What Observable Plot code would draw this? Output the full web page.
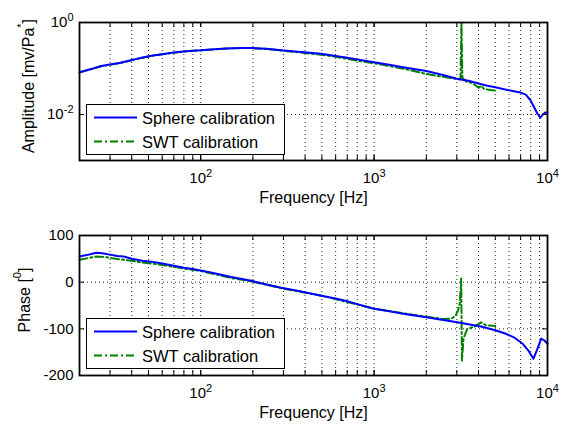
<!DOCTYPE html>
<html><head><meta charset="utf-8">
<script src="https://cdn.jsdelivr.net/npm/d3@7"></script>
<script src="https://cdn.jsdelivr.net/npm/@observablehq/plot@0.6"></script>
<style>
body{margin:0;background:#fff;}
#wrap{position:relative;width:564px;height:432px;font-family:"Liberation Sans",Arial,sans-serif;background:#fff;}
#wrap svg{display:block;}
.legend{position:absolute;background:#fff;border:1.6px solid #000;box-sizing:border-box;}
</style></head><body><div id="wrap"></div>
<script>
// ---- data ----
const seriesNames = ["Sphere calibration", "SWT calibration"];
const seriesColors = ["#0000ff", "#008000"];
const seriesDash = [null, "8,3,2,3"];

const sphereAmpFreq = [20,22,24,26.7,30,34,38,42,47,52,60,70,80,90,100,120,140,170,200,240,291,379,495,600,700,800,1000,1200,1500,2000,2500,3000,3500,4100,4500,5000,5700,6400,7000,7500,8000,8400,8800,9100,9400,9700,10000];
const sphereAmp     = [0.083,0.092,0.10,0.113,0.122,0.132,0.145,0.16,0.175,0.19,0.205,0.222,0.235,0.243,0.248,0.262,0.272,0.28,0.278,0.268,0.250,0.228,0.21,0.188,0.172,0.158,0.137,0.122,0.105,0.088,0.072,0.060,0.054,0.046,0.042,0.039,0.035,0.032,0.030,0.027,0.020,0.014,0.010,0.0085,0.010,0.011,0.011];

const swtAmpFreq = [20,22,24,26.7,30,34,38,42,47,52,60,70,80,90,100,120,140,170,200,240,291,379,495,600,700,800,1000,1200,1500,2000,2500,3000,3150,3190,3230,3400,3700,4000,4150,4300,4700,5000];
const swtAmp     = [0.082,0.091,0.10,0.112,0.121,0.131,0.144,0.158,0.174,0.189,0.204,0.221,0.234,0.242,0.247,0.261,0.271,0.279,0.277,0.266,0.246,0.222,0.200,0.180,0.162,0.148,0.130,0.115,0.098,0.076,0.066,0.059,0.058,1.0,0.062,0.052,0.048,0.038,0.042,0.036,0.034,0.033];

const spherePhaseFreq = [20,22,25,27,30,33,36,40,46,52,60,70,80,90,100,120,150,196,240,291,380,495,600,700,800,1000,1200,1500,2000,2500,3020,3500,4140,5000,5700,6450,7200,7800,8300,8700,9200,9600,10000];
const spherePhase     = [55,58,63,62,59,56,55,50,46,44,40,35,31,28,25,19,11,3,-5,-12,-20,-29,-35,-41,-47,-57,-62,-68,-75,-81,-86,-90,-95,-103,-110,-119,-132,-148,-164,-145,-121,-125,-132];

const swtPhaseFreq = [20,22,25,28,31,36,40,46,52,60,70,80,100,150,200,300,500,1000,1500,2000,2500,2800,2950,3050,3120,3180,3210,3280,3450,3800,4140,4400,5000];
const swtPhase     = [48,51,55,54,51,48,46,42,40,37,33,29,24,9,1,-14,-29,-57,-67,-74,-79,-78,-72,-60,-45,8,-168,-120,-100,-95,-86,-92,-94];

// axis ticks
const gridFreqs = [20,30,40,50,60,70,80,90,100,200,300,400,500,600,700,800,900,1000,2000,3000,4000,5000,6000,7000,8000,9000];
const majorFreqs = [100, 1000, 10000];
const ampTicks = [0.01, 1];
const ampGrid = [0.01];
const phaseTicks = [-200, -100, 0, 100];
const phaseGrid = [0, -100];
const xLabel = "Frequency [Hz]";

const zip = (fs, vs) => fs.map((f, i) => ({f, v: vs[i]}));

function panel({height, marginTop, marginBottom, yScale, series, yTicks, yGrid, yFormat}) {
  const W = 564, ML = 79, MR = 17;
  const pw = W - ML - MR, ph = height - marginTop - marginBottom, tk = 5;
  const dot = {stroke: "#000", strokeWidth: 1, strokeDasharray: "1,3", strokeOpacity: 0.85};
  const svg = Plot.plot({
    width: W, height, marginLeft: ML, marginRight: MR, marginTop, marginBottom,
    x: {type: "log", domain: [20, 10000]},
    y: yScale,
    style: {fontFamily: '"Liberation Sans", Arial, sans-serif', fontSize: "15px", background: "#fff", color: "#000", overflow: "visible"},
    marks: [
      Plot.ruleX(gridFreqs, dot),
      Plot.ruleY(yGrid, dot),
      ...series.map((s, i) => Plot.line(s, {x: "f", y: "v", stroke: seriesColors[i], strokeWidth: 2, strokeDasharray: seriesDash[i]})).reverse(),
      Plot.ruleX(gridFreqs.concat(majorFreqs.slice(0, -1)), {insetBottom: ph - tk, stroke: "#000", strokeWidth: 1}),
      Plot.ruleX(gridFreqs.concat(majorFreqs.slice(0, -1)), {insetTop: ph - tk, stroke: "#000", strokeWidth: 1}),
      Plot.ruleY(yGrid, {insetRight: pw - tk, stroke: "#000", strokeWidth: 1}),
      Plot.ruleY(yGrid, {insetLeft: pw - tk, stroke: "#000", strokeWidth: 1}),
      Plot.frame({stroke: "#000", strokeWidth: 1.8}),
      Plot.axisX(majorFreqs, {tickSize: 0, tickPadding: 12, tickFormat: d => "10^" + Math.round(Math.log10(d)), label: null}),
      Plot.axisY(yTicks, {tickSize: 0, tickPadding: 6, tickFormat: yFormat, label: null}),
      Plot.text([xLabel], {text: d => d, frameAnchor: "bottom", dy: 42, fontSize: 16})
    ]
  });
  // superscript exponents
  d3.select(svg).selectAll("text").each(function () {
    const m = this.textContent.match(/^10\^(-?\d+)$/);
    if (m) {
      this.textContent = "10";
      d3.select(this).append("tspan").attr("dy", "-0.6em").attr("font-size", "11px").text(m[1]);
    }
  });
  return svg;
}

function yLabel(svg, x, y, parts) {
  const t = d3.select(svg).append("text")
    .attr("transform", `translate(${x},${y}) rotate(-90)`)
    .attr("text-anchor", "middle").attr("dominant-baseline", "central")
    .attr("font-size", 16).attr("font-family", '"Liberation Sans", Arial, sans-serif').attr("fill", "#000");
  let prevSup = false;
  parts.forEach(([txt, sup]) => {
    const ts = t.append("tspan").text(txt);
    if (sup) ts.attr("dy", -7).attr("font-size", 11);
    else if (prevSup) ts.attr("dy", 7);
    prevSup = !!sup;
  });
}

function legend(left, topPx) {
  const div = document.createElement("div");
  div.className = "legend";
  Object.assign(div.style, {left: left + "px", top: topPx + "px", width: "199px", height: "51px"});
  const s = d3.select(div).append("svg").attr("width", 196).attr("height", 48);
  seriesNames.forEach((name, i) => {
    const cy = 12.5 + i * 24;
    s.append("line").attr("x1", 7).attr("x2", 50).attr("y1", cy).attr("y2", cy)
      .attr("stroke", seriesColors[i]).attr("stroke-width", 2)
      .attr("stroke-dasharray", seriesDash[i]);
    s.append("text").attr("x", 55).attr("y", cy).attr("dominant-baseline", "central")
      .attr("font-size", 16.5).attr("font-family", '"Liberation Sans", Arial, sans-serif').text(name);
  });
  return div;
}

const wrap = document.getElementById("wrap");

const ampSvg = panel({
  height: 216, marginTop: 22, marginBottom: 56,
  yScale: {type: "log", domain: [0.001, 1]},
  series: [zip(sphereAmpFreq, sphereAmp), zip(swtAmpFreq, swtAmp)],
  yTicks: ampTicks, yGrid: ampGrid,
  yFormat: d => "10^" + Math.round(Math.log10(d))
});
yLabel(ampSvg, 28, 86, [["Amplitude [mv/Pa"], ["*", true], ["]"]]);
wrap.appendChild(ampSvg);

const phaseSvg = panel({
  height: 216, marginTop: 19, marginBottom: 57,
  yScale: {type: "linear", domain: [-200, 100]},
  series: [zip(spherePhaseFreq, spherePhase), zip(swtPhaseFreq, swtPhase)],
  yTicks: phaseTicks, yGrid: phaseGrid,
  yFormat: d => String(d)
});
yLabel(phaseSvg, 24, 84, [["Phase ["], ["0", true], ["]"]]);
wrap.appendChild(phaseSvg);

wrap.appendChild(legend(86, 104));
wrap.appendChild(legend(86, 318));
</script></body></html>
